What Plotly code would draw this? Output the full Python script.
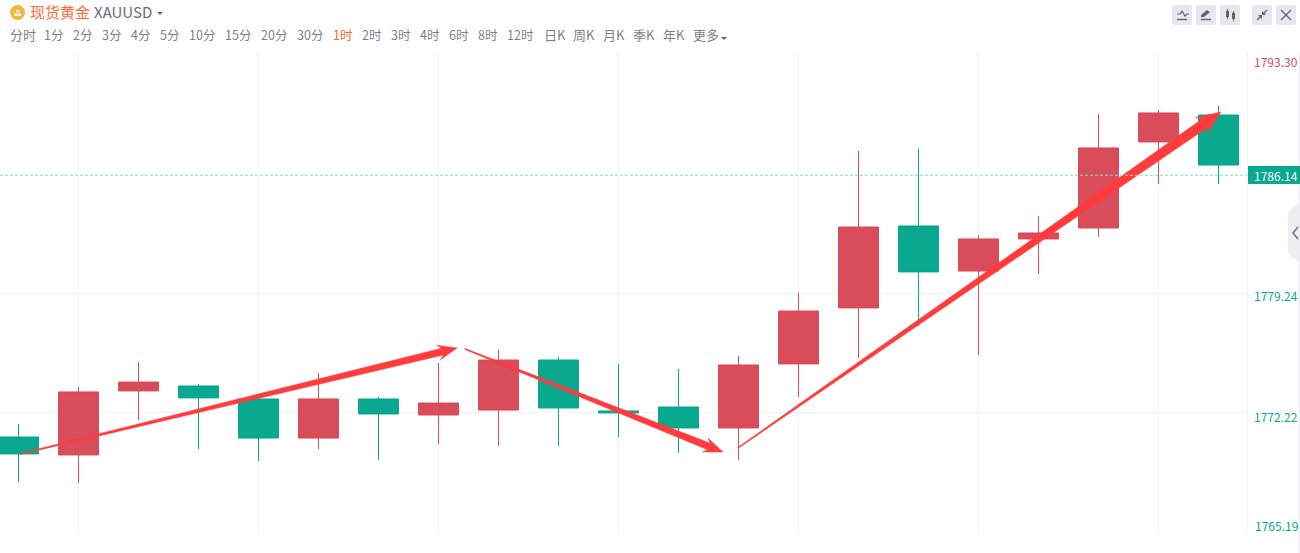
import plotly.graph_objects as go

# ---------- data ----------
candle_index = list(range(21))
open_prices = [1770.81, 1769.76, 1773.51, 1773.80, 1773.04, 1770.75, 1773.04, 1772.10, 1772.39, 1775.32, 1772.34, 1772.57, 1771.34, 1775.09, 1778.37, 1783.17, 1780.53, 1782.41, 1783.05, 1788.09, 1789.67]
high_prices = [1771.57, 1773.74, 1775.20, 1773.92, 1773.04, 1774.56, 1773.16, 1775.15, 1775.91, 1775.50, 1775.09, 1774.80, 1775.56, 1779.25, 1787.56, 1787.68, 1782.64, 1783.75, 1789.73, 1789.96, 1790.20]
low_prices = [1768.18, 1768.12, 1771.81, 1770.11, 1769.41, 1770.11, 1769.47, 1770.40, 1770.29, 1770.29, 1770.81, 1769.88, 1769.47, 1773.16, 1775.44, 1777.31, 1775.61, 1780.36, 1782.53, 1785.63, 1785.63]
close_prices = [1769.82, 1773.45, 1774.03, 1773.10, 1770.75, 1773.04, 1772.16, 1772.80, 1775.32, 1772.51, 1772.22, 1771.34, 1775.03, 1778.19, 1783.11, 1780.48, 1782.41, 1782.76, 1787.74, 1789.79, 1786.74]

y_tick_values = [1793.30, 1779.24, 1772.22, 1765.19]
y_tick_labels = ["1793.30", "1779.24", "1772.22", "1765.19"]
last_price = 1786.14
vertical_grid_index = [1, 4, 7, 10, 13, 16, 19]
period_labels = ["分时", "1分", "2分", "3分", "4分", "5分", "10分", "15分", "20分", "30分", "1时", "2时", "3时", "4时", "6时", "8时", "12时", "日K", "周K", "月K", "季K", "年K", "更多"]

arrow_a = [(0.03, 1769.82), (7.31, 1776.02)]
arrow_b = [(7.44, 1775.97), (11.74, 1769.93)]
arrow_c = [(11.99, 1770.17), (20.04, 1789.84)]

# ---------- layout constants ----------
W, H = 1300, 553
L, R, T, B = 0, 1247, 53, 533
FONT = "Noto Sans CJK SC"
RED, GREEN = "#d94c5a", "#0aa88e"
GRID = "#f3f3f7"
X0, X1 = -0.3083, 20.475
Y0, Y1 = 1765.19, 1793.30
sx = (R - L) / (X1 - X0)
sy = (B - T) / (Y1 - Y0)


def px(x):
    return (x - L) / (R - L)


def py(y):
    return (B - y) / (B - T)


def arrow_polygon(p, q, tail, shaft, head_w, head_l, inset):
    ax, ay = p[0] * sx, p[1] * sy
    bx, by = q[0] * sx, q[1] * sy
    dx, dy = bx - ax, by - ay
    n = (dx * dx + dy * dy) ** 0.5
    ux, uy = dx / n, dy / n
    vx, vy = -uy, ux

    def pt(a, b):
        return ((ax + ux * a + vx * b) / sx, (ay + uy * a + vy * b) / sy)

    pts = [pt(0, tail / 2), pt(n - head_l + inset, shaft / 2), pt(n - head_l, head_w / 2), pt(n, 0),
           pt(n - head_l, -head_w / 2), pt(n - head_l + inset, -shaft / 2), pt(0, -tail / 2)]
    pts.append(pts[0])
    return [a for a, _ in pts], [b for _, b in pts]


fig = go.Figure()
fig.add_trace(go.Candlestick(
    x=candle_index, open=open_prices, high=high_prices, low=low_prices, close=close_prices,
    whiskerwidth=0,
    increasing=dict(line=dict(color=RED, width=1), fillcolor=RED),
    decreasing=dict(line=dict(color=GREEN, width=1), fillcolor=GREEN),
    showlegend=False, hoverinfo="skip",
))

for seg, sizes in ((arrow_a, (1, 7, 15, 19, 4)), (arrow_b, (1, 7, 15, 19, 4)), (arrow_c, (1, 10, 20, 24, 5))):
    ax_, ay_ = arrow_polygon(seg[0], seg[1], *sizes)
    fig.add_trace(go.Scatter(x=ax_, y=ay_, mode="lines", fill="toself", fillcolor="#ff3b3b",
                             line=dict(color="#ff3b3b", width=0.5), showlegend=False, hoverinfo="skip"))

shapes = [
    dict(type="line", xref="paper", yref="y", x0=0, x1=1, y0=last_price, y1=last_price,
         line=dict(color="#7fe0cf", width=1, dash="3px,2px"), layer="above"),
    dict(type="line", xref="paper", yref="paper", x0=px(1299), x1=px(1299), y0=py(53), y1=py(553),
         line=dict(color=GRID, width=2), layer="below"),
    dict(type="rect", xref="paper", yref="paper", x0=px(1248), x1=px(1300), y0=py(166), y1=py(184),
         fillcolor=GREEN, line=dict(width=0), layer="above"),
]


def paper_path(points, close=True):
    s = "M" + " L".join(f"{px(a):.5f},{py(b):.5f}" for a, b in points)
    return s + (" Z" if close else "")


def add_path(points, fill=None, stroke=None, width=1.2, close=True):
    shapes.append(dict(type="path", xref="paper", yref="paper", path=paper_path(points, close),
                       fillcolor=fill if fill else "rgba(0,0,0,0)",
                       line=dict(color=stroke if stroke else "rgba(0,0,0,0)", width=width if stroke else 0),
                       layer="above"))


# side handle
add_path([(1300, 203), (1291, 209), (1288, 214), (1288, 252), (1291, 257), (1300, 262)], fill="#eeeef0")
add_path([(1298, 227), (1293, 233), (1298, 239)], stroke="#6e7385", width=1.6, close=False)

# gold coin
shapes.append(dict(type="circle", xref="paper", yref="paper", x0=px(10), x1=px(25), y0=py(20), y1=py(5),
                   fillcolor="#f0b93c", line=dict(width=0), layer="above"))
for a, b in ((14.5, 13.5), (18, 13.5), (16.3, 10)):
    shapes.append(dict(type="rect", xref="paper", yref="paper", x0=px(a), x1=px(a + 3), y0=py(b + 2.4), y1=py(b),
                       fillcolor="white", line=dict(width=0), layer="above"))

# caret glyphs
add_path([(157, 12), (163, 12), (160, 15)], fill="#5f6475")
add_path([(721, 37), (727, 37), (724, 40)], fill="#5f6475")

# toolbar buttons (rounded)
for bx in (1172, 1196, 1220, 1252, 1276):
    x0, x1, y0, y1 = bx, bx + 20, 5, 25
    c = 2
    add_path([(x0 + c, y0), (x1 - c, y0), (x1 - 0.6, y0 + 0.6), (x1, y0 + c), (x1, y1 - c), (x1 - 0.6, y1 - 0.6),
              (x1 - c, y1), (x0 + c, y1), (x0 + 0.6, y1 - 0.6), (x0, y1 - c), (x0, y0 + c), (x0 + 0.6, y0 + 0.6)],
             fill="#e6e8ef")
ICON = "#5f6475"
add_path([(1177, 14), (1180, 14), (1182, 11), (1185, 16), (1187, 14), (1189, 14)], stroke=ICON, close=False)
add_path([(1177, 19.5), (1187, 19.5)], stroke=ICON, close=False, width=1.4)
add_path([(1201, 15), (1207, 10), (1210, 12), (1204, 17), (1201, 17)], fill=ICON)
add_path([(1201, 19.5), (1211, 19.5)], stroke=ICON, close=False, width=1.4)
add_path([(1226, 11), (1229, 11), (1229, 17), (1226, 17)], fill=ICON)
add_path([(1227.5, 9), (1227.5, 19)], stroke=ICON, close=False, width=1)
add_path([(1232, 13), (1235, 13), (1235, 19), (1232, 19)], fill=ICON)
add_path([(1233.5, 11), (1233.5, 21)], stroke=ICON, close=False, width=1)
add_path([(1257, 20), (1261, 16)], stroke=ICON, close=False)
add_path([(1258, 15), (1262, 15), (1262, 19)], fill=ICON)
add_path([(1267, 10), (1263, 14)], stroke=ICON, close=False)
add_path([(1262, 11), (1262, 15), (1266, 15)], fill=ICON)
add_path([(1281, 10), (1291, 20)], stroke=ICON, close=False)
add_path([(1291, 10), (1281, 20)], stroke=ICON, close=False)

annotations = []


def text(x, y, s, color, size=12, anchor="left", **kw):
    annotations.append(dict(x=px(x), y=py(y), xref="paper", yref="paper", text=s, showarrow=False,
                            xanchor=anchor, yanchor="middle", align=anchor,
                            font=dict(family=FONT, size=size, color=color), borderpad=0, **kw))


text(29, 11, "现货黄金", "#ff6a33", 15)
text(93, 11, "XAUUSD", "#656a7b", 15)

period_x = [9, 43, 72, 101, 130, 159, 188, 224, 260, 296, 332, 361, 390, 419, 448, 477, 506, 543, 572, 602, 632, 662, 692]
for label, x in zip(period_labels, period_x):
    text(x, 35, label, "#ff6a33" if label == "1时" else "#7b8090", 13 if len(label) == 2 and not label[0].isdigit() else 12.5)

label_y = [61, 295, 416, 525]
label_color = [RED, GREEN, GREEN, GREEN]
for lab, y, c in zip(y_tick_labels, label_y, label_color):
    text(1299, y, lab, c, 12, anchor="right")
text(1299, 175, f"{last_price:.2f}", "white", 12, anchor="right")

fig.update_layout(
    width=W, height=H, margin=dict(l=L, r=W - R, t=T, b=H - B),
    paper_bgcolor="white", plot_bgcolor="white", showlegend=False,
    boxgap=0.333, boxgroupgap=0, shapes=shapes, annotations=annotations, hovermode=False,
    font=dict(family=FONT),
    xaxis=dict(range=[X0, X1], tickvals=vertical_grid_index, showticklabels=False, ticks="",
               showgrid=True, gridcolor=GRID, gridwidth=1, zeroline=False, showline=False,
               rangeslider=dict(visible=False), fixedrange=True),
    yaxis=dict(range=[Y0, Y1], side="right", tickvals=y_tick_values, showticklabels=False, ticks="",
               showgrid=True, gridcolor=GRID, gridwidth=1, zeroline=False,
               showline=True, linecolor=GRID, linewidth=1, mirror=False, fixedrange=True),
)

fig.write_html("out.html", config=dict(displayModeBar=False),
               post_script="document.body.style.margin='0';")
